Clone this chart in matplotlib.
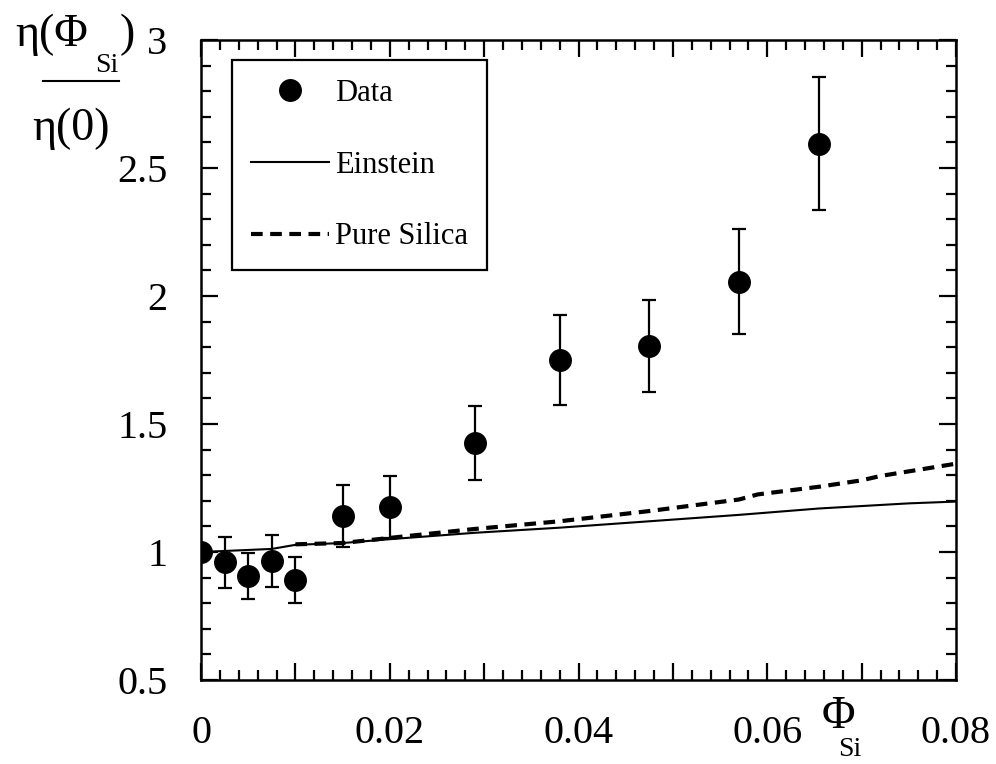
import matplotlib
matplotlib.use("Agg")
import matplotlib.pyplot as plt
from matplotlib.lines import Line2D
from matplotlib.ticker import MultipleLocator, FuncFormatter

# data
phi_data = [0, 0.0025, 0.005, 0.0075, 0.01, 0.015, 0.02, 0.029, 0.038, 0.0475, 0.057, 0.0655]
eta_data = [1.0, 0.96, 0.905, 0.965, 0.89, 1.14, 1.175, 1.425, 1.75, 1.805, 2.055, 2.595]
eta_err = [0, 0.10, 0.09, 0.10, 0.09, 0.12, 0.12, 0.145, 0.175, 0.18, 0.205, 0.26]

phi_einstein = [0, 0.0025, 0.005, 0.0075, 0.01, 0.015, 0.02, 0.029, 0.038, 0.0475, 0.057, 0.0655, 0.075, 0.08]
eta_einstein = [1.0, 1.004, 1.008, 1.012, 1.028, 1.035, 1.05, 1.075, 1.095, 1.12, 1.145, 1.17, 1.19, 1.197]

phi_silica = [0.01, 0.015, 0.02, 0.029, 0.038, 0.0475, 0.057, 0.059, 0.0655, 0.07, 0.072, 0.0775, 0.08]
eta_silica = [1.03, 1.035, 1.055, 1.09, 1.12, 1.16, 1.205, 1.225, 1.255, 1.28, 1.297, 1.33, 1.345]

plt.rcParams['font.family'] = ['Liberation Serif', 'DejaVu Serif']

fig = plt.figure(figsize=(9.96, 7.64), dpi=100)
ax = fig.add_axes([201/996, 1 - 680/764, 755/996, 640/764])

ax.errorbar(phi_data, eta_data, yerr=eta_err, fmt='o', color='black', ms=15.5,
            elinewidth=1.6, capsize=5, capthick=1.6, zorder=3)
ax.plot(phi_einstein, eta_einstein, color='black', lw=1.5, zorder=2)
ax.plot(phi_silica, eta_silica, color='black', lw=3, dashes=(2.8, 1.8), zorder=2)

ax.set_xlim(0, 0.08)
ax.set_ylim(0.5, 3)
ax.xaxis.set_major_locator(MultipleLocator(0.01))
ax.xaxis.set_minor_locator(MultipleLocator(0.002))
ax.yaxis.set_major_locator(MultipleLocator(0.5))
ax.yaxis.set_minor_locator(MultipleLocator(0.1))


def xfmt(v, pos):
    k = int(round(v / 0.01))
    if k % 2:
        return ''
    return '0' if k == 0 else '%g' % (k * 0.01)


ax.xaxis.set_major_formatter(FuncFormatter(xfmt))
ax.yaxis.set_major_formatter(FuncFormatter(lambda v, p: '%g' % v))
ax.tick_params(which='both', direction='in', top=True, right=True, width=1.6, labelsize=29)
ax.tick_params(which='major', length=12)
ax.tick_params(which='minor', length=7)
ax.tick_params(axis='x', pad=25)
ax.tick_params(axis='y', pad=24)
for sp in ax.spines.values():
    sp.set_linewidth(1.8)

# legend
handles = [
    Line2D([], [], ls='none', marker='o', ms=15.5, color='black'),
    Line2D([], [], color='black', lw=1.5),
    Line2D([], [], color='black', lw=3, dashes=(2.8, 1.8)),
]
leg = ax.legend(handles, ['Data', 'Einstein', 'Pure Silica'], loc='upper left',
                bbox_to_anchor=(0.041, 0.969), borderaxespad=0, fontsize=22,
                fancybox=False, frameon=True, edgecolor='black', framealpha=1,
                handlelength=2.55, handletextpad=0.2, labelspacing=1.4,
                borderpad=0.62)
leg.get_frame().set_linewidth(1.6)

# y label as a fraction
fig.text(15/996, 1 - 35/764, 'η(Φ', fontsize=33, ha='left', va='center')
fig.text(95/996, 1 - 66/764, 'Si', fontsize=20, ha='left', va='center')
fig.text(120/996, 1 - 35/764, ')', fontsize=33, ha='left', va='center')
fig.add_artist(Line2D([43/996, 119/996], [1 - 81/764, 1 - 81/764], color='black', lw=1.5))
fig.text(32/996, 1 - 129/764, 'η(0)', fontsize=33, ha='left', va='center')

# x label
fig.text(838/996, 1 - 717/764, 'Φ', fontsize=33, ha='center', va='center')
fig.text(850/996, 1 - 750/764, 'Si', fontsize=20, ha='center', va='center')

fig.savefig('out.png', dpi=100)
